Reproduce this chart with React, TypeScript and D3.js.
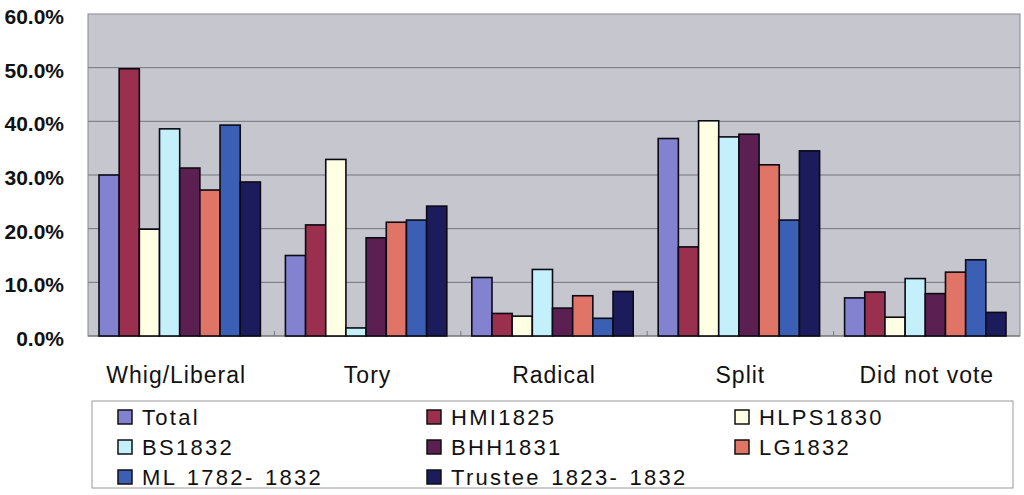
import React from "react";
import * as d3 from "d3";

const categories = ["Whig/Liberal", "Tory", "Radical", "Split", "Did not vote"];
const seriesNames = ["Total", "HMI1825", "HLPS1830", "BS1832", "BHH1831", "LG1832", "ML 1782- 1832", "Trustee 1823- 1832"];
const seriesColors = ["#8282d0", "#9a2f4e", "#ffffe4", "#c4f0fc", "#5c1f52", "#e07466", "#3b5fb4", "#1c1c5c"];

const total = [30.0, 15.0, 10.9, 36.8, 7.1];
const hmi1825 = [49.8, 20.7, 4.2, 16.6, 8.2];
const hlps1830 = [19.9, 32.9, 3.7, 40.1, 3.5];
const bs1832 = [38.6, 1.5, 12.4, 37.1, 10.7];
const bhh1831 = [31.3, 18.3, 5.2, 37.6, 7.9];
const lg1832 = [27.2, 21.2, 7.5, 31.9, 11.9];
const ml1782 = [39.3, 21.6, 3.3, 21.6, 14.2];
const trustee1823 = [28.7, 24.2, 8.3, 34.5, 4.4];
const seriesValues = [total, hmi1825, hlps1830, bs1832, bhh1831, lg1832, ml1782, trustee1823];

const yTicks = [0, 10, 20, 30, 40, 50, 60];

export default function App() {
  const W = 1024, H = 495;
  const plot = { left: 88, right: 1020, top: 14, bottom: 336 };
  const x = d3.scaleBand().domain(categories).range([plot.left, plot.right]);
  const bw = x.bandwidth();
  const xs = d3.scaleBand().domain(seriesNames).range([11, bw - 14]);
  const y = d3.scaleLinear().domain([0, 60]).range([plot.bottom, plot.top]);

  const legendCols = [118, 427, 735];
  const legendRows = [417, 447, 477];

  return (
    <div style={{ position: "absolute", left: 0, top: 0 }}>
      <svg width={W} height={H} style={{ display: "block", background: "#ffffff" }}>
        <rect x={plot.left} y={plot.top} width={plot.right - plot.left} height={plot.bottom - plot.top} fill="#c6c6ce" stroke="#8a8a8a" strokeWidth={1} />
        {yTicks.filter((t) => t > 0 && t < 60).map((t) => (
          <line key={t} x1={plot.left} x2={plot.right} y1={y(t)} y2={y(t)} stroke="#74747c" strokeWidth={1} />
        ))}
        {categories.slice(1).map((c) => (
          <line key={c} x1={x(c)!} x2={x(c)!} y1={plot.bottom} y2={plot.bottom - 5} stroke="#7e7e86" strokeWidth={1} />
        ))}
        <line x1={plot.left} x2={plot.right} y1={plot.bottom} y2={plot.bottom} stroke="#6a6a6a" strokeWidth={1.2} />
        {yTicks.map((t) => (
          <text key={t} x={64} y={y(t) + 10} textAnchor="end" fontFamily="Liberation Sans, Arial, sans-serif" fontWeight="bold" fontSize={21} fill="#111">
            {t.toFixed(1) + "%"}
          </text>
        ))}
        {seriesNames.map((s, si) =>
          categories.map((c, ci) => {
            const v = seriesValues[si][ci];
            return (
              <rect key={s + c} x={x(c)! + xs(s)!} y={y(v)} width={xs.bandwidth()} height={y(0) - y(v)} fill={seriesColors[si]} stroke="#0a0a14" strokeWidth={1.6} />
            );
          })
        )}
        {categories.map((c, i) => (
          <text key={c} x={x(c)! + bw / 2 - (i === 0 ? 5 : 0)} y={383} textAnchor="middle" fontFamily="Liberation Sans, Arial, sans-serif" fontSize={23} letterSpacing={1} fill="#111">
            {c}
          </text>
        ))}
        <rect x={92} y={401} width={921} height={87} fill="#ffffff" stroke="#9a9a9a" strokeWidth={1} />
        {seriesNames.map((s, i) => {
          const cx = legendCols[i % 3];
          const cy = legendRows[Math.floor(i / 3)];
          return (
            <g key={s}>
              <rect x={cx} y={cy - 7} width={14} height={14} fill={seriesColors[i]} stroke="#111" strokeWidth={1.5} />
              <text x={cx + 24} y={cy + 8} fontFamily="Liberation Sans, Arial, sans-serif" fontSize={22} letterSpacing={2.3} wordSpacing={2} fill="#111">
                {s}
              </text>
            </g>
          );
        })}
      </svg>
    </div>
  );
}
